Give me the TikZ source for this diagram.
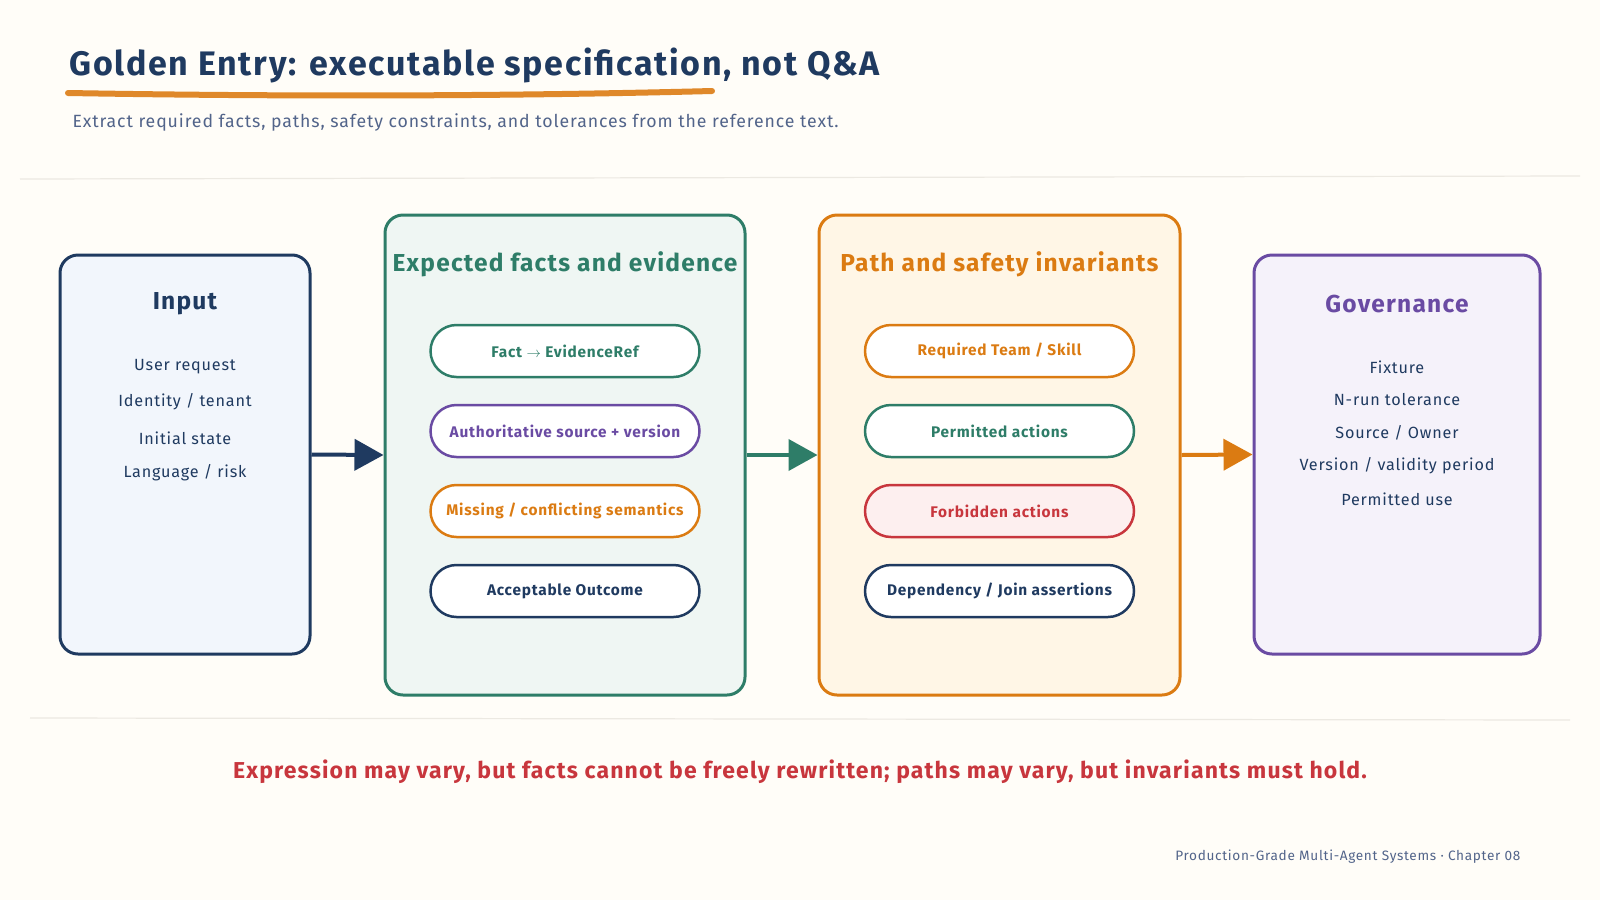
\documentclass[tikz,border=0pt]{standalone}
\usepackage{fontspec}
\setmainfont{Fira Sans}[LetterSpace=5]
\usetikzlibrary{arrows.meta}
\definecolor{navy}{HTML}{1F3A60}
\definecolor{inkgreen}{HTML}{2E7D68}
\definecolor{inkorange}{HTML}{DB7B12}
\definecolor{inkpurple}{HTML}{6A4BA3}
\definecolor{inkred}{HTML}{C8363D}
\definecolor{slate}{HTML}{52648A}
\definecolor{paper}{HTML}{FFFDF8}
\definecolor{rulegray}{HTML}{ECE9E2}
\definecolor{fillblue}{HTML}{F2F6FC}
\definecolor{fillgreen}{HTML}{EFF6F3}
\definecolor{fillorange}{HTML}{FFF6E6}
\definecolor{fillpurple}{HTML}{F5F2FA}
\definecolor{fillred}{HTML}{FDEFEF}

\tikzset{
    panel/.style={draw, line width=3pt, rounded corners=18pt, inner sep=0pt},
    pill/.style={draw, line width=2.5pt, fill=white, rounded corners=26pt,
        minimum width=269pt, minimum height=52pt,
        font=\fontsize{15.4}{18}\selectfont\bfseries},
    paneltitle/.style={font=\fontsize{24.5}{28}\selectfont\bfseries},
    item/.style={font=\fontsize{16.2}{20}\selectfont, text=navy},
    link/.style={-{Triangle[length=29pt,width=31pt]}, line width=4pt},
    rule/.style={draw=rulegray, line width=1.2pt}
}

\begin{document}
\begin{tikzpicture}[x=1pt, y=-1pt]
    \useasboundingbox[fill=paper] (0,0) rectangle (1600,900);

    \node[anchor=west, text=navy, font=\fontsize{34}{38}\selectfont\bfseries] (title) at (66,65)
        {Golden Entry: executable specification, not Q\&A};
    \coordinate (ul-start) at (68,93);
    \coordinate (ul-end) at (712,91);
    \draw[draw=inkorange!90, line width=6pt, line cap=round]
        (ul-start) .. controls (300,97) and (520,96) .. (ul-end);
    \node[anchor=west, text=slate, font=\fontsize{17.7}{22}\selectfont] (subtitle) at (69,122)
        {Extract required facts, paths, safety constraints, and tolerances from the reference text.};

    \coordinate (rule-top-l) at (20,179);
    \coordinate (rule-top-r) at (1580,176);
    \draw[rule] (rule-top-l) -- (rule-top-r);

    \node[panel, draw=navy, fill=fillblue, minimum width=250pt, minimum height=399pt] (input) at (185,454.5) {};
    \node[panel, draw=inkgreen, fill=fillgreen, minimum width=360pt, minimum height=480pt] (facts) at (565,455) {};
    \node[panel, draw=inkorange, fill=fillorange, minimum width=361pt, minimum height=480pt] (paths) at (999.5,455) {};
    \node[panel, draw=inkpurple, fill=fillpurple, minimum width=286pt, minimum height=399pt] (gov) at (1397,454.5) {};

    \node[paneltitle, text=navy] (input-title) at (185,304) {Input};
    \node[item] (input-1) at (185,367) {User request};
    \node[item] (input-2) at (185,402) {Identity / tenant};
    \node[item] (input-3) at (185,438) {Initial state};
    \node[item] (input-4) at (185,473) {Language / risk};

    \node[paneltitle, text=inkgreen] (facts-title) at (565,264) {Expected facts and evidence};
    \node[pill, draw=inkgreen, text=inkgreen] (fact-ref) at (565,351) {Fact $\rightarrow$ EvidenceRef};
    \node[pill, draw=inkpurple, text=inkpurple] (source) at (565,431) {Authoritative source + version};
    \node[pill, draw=inkorange, text=inkorange] (missing) at (565,511) {Missing / conflicting semantics};
    \node[pill, draw=navy, text=navy] (outcome) at (565,591) {Acceptable Outcome};

    \node[paneltitle, text=inkorange] (paths-title) at (999.5,264) {Path and safety invariants};
    \node[pill, draw=inkorange, text=inkorange] (team) at (999.5,351) {Required Team / Skill};
    \node[pill, draw=inkgreen, text=inkgreen] (permitted) at (999.5,431) {Permitted actions};
    \node[pill, draw=inkred, fill=fillred, text=inkred] (forbidden) at (999.5,511) {Forbidden actions};
    \node[pill, draw=navy, text=navy] (join) at (999.5,591) {Dependency / Join assertions};

    \node[paneltitle, text=inkpurple] (gov-title) at (1397,304) {Governance};
    \node[item] (gov-1) at (1397,367) {Fixture};
    \node[item] (gov-2) at (1397,400) {N-run tolerance};
    \node[item] (gov-3) at (1397,433) {Source / Owner};
    \node[item] (gov-4) at (1397,466) {Version / validity period};
    \node[item] (gov-5) at (1397,499) {Permitted use};

    \draw[link, navy] (input.east) -- (facts.west);
    \draw[link, inkgreen] (facts.east) -- (paths.west);
    \draw[link, inkorange] (paths.east) -- (gov.west);

    \coordinate (rule-bot-l) at (30,718);
    \coordinate (rule-bot-r) at (1570,720);
    \draw[rule] (rule-bot-l) -- (rule-bot-r);

    \node[text=inkred, font=\fontsize{23}{26}\selectfont\bfseries] (motto) at (800,772)
        {Expression may vary, but facts cannot be freely rewritten; paths may vary, but invariants must hold.};
    \node[anchor=east, text=slate, font=\fontsize{13.6}{16}\selectfont] (footer) at (1524,857)
        {Production-Grade Multi-Agent Systems · Chapter 08};
\end{tikzpicture}
\end{document}
